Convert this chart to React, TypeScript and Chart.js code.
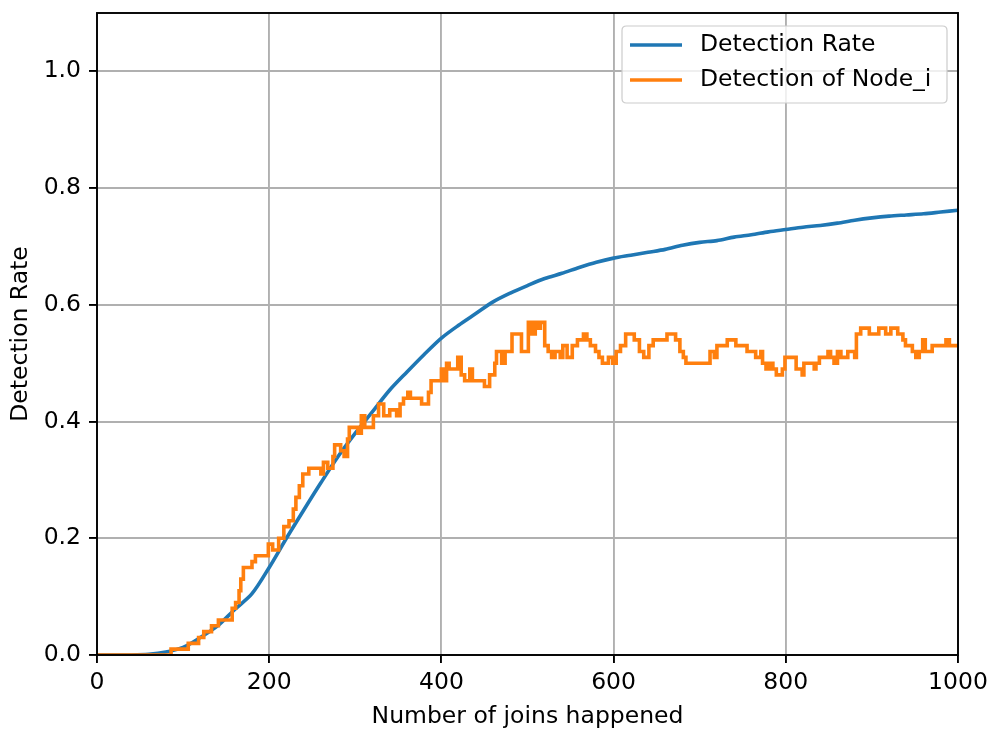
import React, { useEffect, useRef } from 'react';
import { Chart, registerables } from 'chart.js';

Chart.register(...registerables);

const FONT_FAMILY = "'DejaVu Sans', 'Liberation Sans', sans-serif";
const FONT_SIZE = 23.5;

const xAxisTitle = 'Number of joins happened';
const yAxisTitle = 'Detection Rate';
const seriesLabels = ['Detection Rate', 'Detection of Node_i'];
const seriesColors = ['#1f77b4', '#ff7f0e'];

const xMin = 0;
const xMax = 1000;
const xStep = 200;
const yMin = 0;
const yMax = 1.1;
const yStep = 0.2;

// Detection Rate (smooth cumulative curve)
const rateX = [0, 40, 60, 80, 100, 120, 140, 160, 180, 200, 220, 240, 260, 280, 300, 320, 340, 360, 380, 400, 420, 440, 460, 480, 500, 520, 540, 560, 580, 600, 620, 640, 660, 680, 700, 720, 740, 760, 780, 800, 820, 840, 860, 880, 900, 920, 940, 960, 980, 1000];
const rateY = [0, 0, 0.001, 0.005, 0.013, 0.03, 0.05, 0.078, 0.105, 0.15, 0.2, 0.248, 0.295, 0.34, 0.38, 0.417, 0.454, 0.485, 0.515, 0.543, 0.565, 0.585, 0.605, 0.62, 0.633, 0.645, 0.654, 0.664, 0.673, 0.68, 0.685, 0.69, 0.695, 0.702, 0.707, 0.71, 0.716, 0.72, 0.725, 0.729, 0.733, 0.736, 0.74, 0.745, 0.749, 0.752, 0.754, 0.756, 0.759, 0.762];

// Detection of Node_i (step values, each value holds from its x onwards)
const nodeX = [0, 86, 106, 118, 124, 133, 141, 157, 161, 165, 167, 170, 180, 184, 199, 204, 211, 217, 223, 228, 231, 235, 239, 246, 260, 263, 268, 274, 276, 283, 287, 291, 293, 303, 307, 311, 321, 327, 333, 340, 348, 352, 356, 361, 364, 377, 385, 388, 400, 403, 406, 409, 419, 423, 427, 433, 436, 450, 456, 462, 464, 470, 474, 482, 493, 501, 505, 509, 512, 515, 520, 524, 528, 532, 538, 541, 546, 552, 558, 565, 569, 573, 579, 583, 587, 594, 599, 603, 608, 614, 624, 630, 635, 641, 646, 662, 672, 677, 681, 684, 712, 717, 720, 732, 742, 755, 765, 771, 773, 777, 781, 785, 789, 796, 799, 812, 819, 821, 833, 835, 839, 849, 852, 856, 860, 864, 872, 880, 882, 887, 897, 908, 916, 922, 930, 936, 939, 947, 951, 955, 959, 962, 970, 986, 990, 1000];
const nodeY = [0, 0.01, 0.02, 0.03, 0.04, 0.05, 0.06, 0.08, 0.09, 0.11, 0.13, 0.15, 0.16, 0.17, 0.19, 0.18, 0.2, 0.22, 0.23, 0.25, 0.27, 0.29, 0.31, 0.32, 0.31, 0.33, 0.32, 0.34, 0.36, 0.35, 0.34, 0.37, 0.39, 0.38, 0.41, 0.39, 0.41, 0.43, 0.41, 0.42, 0.41, 0.43, 0.44, 0.45, 0.44, 0.43, 0.45, 0.47, 0.49, 0.47, 0.5, 0.49, 0.51, 0.48, 0.47, 0.49, 0.47, 0.46, 0.48, 0.5, 0.52, 0.5, 0.52, 0.55, 0.52, 0.57, 0.55, 0.57, 0.56, 0.57, 0.53, 0.52, 0.51, 0.52, 0.51, 0.53, 0.51, 0.53, 0.54, 0.55, 0.54, 0.53, 0.52, 0.51, 0.5, 0.51, 0.5, 0.52, 0.53, 0.55, 0.54, 0.52, 0.51, 0.53, 0.54, 0.55, 0.54, 0.52, 0.51, 0.5, 0.52, 0.51, 0.53, 0.54, 0.53, 0.52, 0.51, 0.52, 0.5, 0.49, 0.5, 0.49, 0.48, 0.49, 0.51, 0.49, 0.48, 0.5, 0.49, 0.5, 0.51, 0.52, 0.51, 0.5, 0.52, 0.51, 0.52, 0.51, 0.55, 0.56, 0.55, 0.56, 0.55, 0.56, 0.55, 0.54, 0.53, 0.52, 0.51, 0.52, 0.54, 0.52, 0.53, 0.54, 0.53, 0.53];

const framePlugin = {
  id: 'axesFrame',
  afterDatasetsDraw(chart: any) {
    const { ctx, chartArea: a } = chart;
    ctx.save();
    ctx.strokeStyle = '#000000';
    ctx.lineWidth = 1.9;
    ctx.strokeRect(a.left, a.top, a.right - a.left, a.bottom - a.top);
    ctx.restore();
  },
};

const legendPlugin = {
  id: 'boxLegend',
  afterDraw(chart: any) {
    const { ctx, chartArea: a } = chart;
    const boxRight = a.right - 11;
    const boxTop = a.top + 13;
    const boxW = 325;
    const boxH = 77;
    const boxLeft = boxRight - boxW;
    const r = 4.5;
    ctx.save();
    ctx.beginPath();
    ctx.moveTo(boxLeft + r, boxTop);
    ctx.lineTo(boxRight - r, boxTop);
    ctx.quadraticCurveTo(boxRight, boxTop, boxRight, boxTop + r);
    ctx.lineTo(boxRight, boxTop + boxH - r);
    ctx.quadraticCurveTo(boxRight, boxTop + boxH, boxRight - r, boxTop + boxH);
    ctx.lineTo(boxLeft + r, boxTop + boxH);
    ctx.quadraticCurveTo(boxLeft, boxTop + boxH, boxLeft, boxTop + boxH - r);
    ctx.lineTo(boxLeft, boxTop + r);
    ctx.quadraticCurveTo(boxLeft, boxTop, boxLeft + r, boxTop);
    ctx.closePath();
    ctx.fillStyle = 'rgba(255,255,255,0.8)';
    ctx.fill();
    ctx.strokeStyle = '#cccccc';
    ctx.lineWidth = 1.2;
    ctx.stroke();

    ctx.font = `${FONT_SIZE}px ${FONT_FAMILY}`;
    ctx.textBaseline = 'middle';
    ctx.textAlign = 'left';
    chart.data.datasets.forEach((ds: any, i: number) => {
      const cy = boxTop + 19 + i * 35;
      ctx.strokeStyle = ds.borderColor;
      ctx.lineWidth = 3.5;
      ctx.beginPath();
      ctx.moveTo(boxLeft + 8, cy);
      ctx.lineTo(boxLeft + 60, cy);
      ctx.stroke();
      ctx.fillStyle = '#000000';
      ctx.fillText(ds.label, boxLeft + 78, cy);
    });
    ctx.restore();
  },
};

export default function App() {
  const canvasRef = useRef<HTMLCanvasElement | null>(null);

  useEffect(() => {
    document.body.style.margin = '0';
    const canvas = canvasRef.current;
    if (!canvas) return;
    const rateData = rateX.map((x, i) => ({ x, y: rateY[i] }));
    const nodeData = nodeX.map((x, i) => ({ x, y: nodeY[i] }));
    const tickFont = { family: FONT_FAMILY, size: FONT_SIZE };

    const chart = new Chart(canvas, {
      type: 'line',
      data: {
        datasets: [
          {
            label: seriesLabels[0],
            data: rateData,
            borderColor: seriesColors[0],
            backgroundColor: seriesColors[0],
            borderWidth: 3.6,
            pointRadius: 0,
            tension: 0.3,
            fill: false,
            order: 1,
          },
          {
            label: seriesLabels[1],
            data: nodeData,
            borderColor: seriesColors[1],
            backgroundColor: seriesColors[1],
            borderWidth: 3.6,
            pointRadius: 0,
            stepped: 'before',
            fill: false,
            order: 0,
          },
        ],
      },
      options: {
        animation: false,
        responsive: false,
        maintainAspectRatio: false,
        devicePixelRatio: 1,
        layout: { padding: { left: 0, top: 13, right: 34, bottom: 0 } },
        plugins: {
          legend: { display: false },
          tooltip: { enabled: false },
        },
        scales: {
          x: {
            type: 'linear',
            min: xMin,
            max: xMax,
            afterFit(scale: any) {
              scale.height = 76;
              scale.paddingLeft = 0;
              scale.paddingRight = 0;
            },
            ticks: {
              stepSize: xStep,
              color: '#000000',
              font: tickFont,
              padding: 6,
              maxRotation: 0,
              callback: (v: any) => String(v),
            },
            grid: {
              color: '#b0b0b0',
              lineWidth: 1.9,
              drawTicks: true,
              tickLength: 8,
              tickColor: '#000000',
              tickWidth: 1.9,
            },
            border: { display: false },
            title: {
              display: true,
              text: xAxisTitle,
              color: '#000000',
              font: tickFont,
              padding: { top: 0, bottom: 0 },
            },
          },
          y: {
            type: 'linear',
            min: yMin,
            max: yMax,
            afterFit(scale: any) {
              scale.width = 97;
              scale.paddingTop = 0;
              scale.paddingBottom = 0;
            },
            ticks: {
              stepSize: yStep,
              includeBounds: false,
              color: '#000000',
              font: tickFont,
              padding: 8,
              callback: (v: any) => Number(v).toFixed(1),
            },
            grid: {
              color: '#b0b0b0',
              lineWidth: 1.9,
              drawTicks: true,
              tickLength: 8,
              tickColor: '#000000',
              tickWidth: 1.9,
            },
            border: { display: false },
            title: {
              display: true,
              text: yAxisTitle,
              color: '#000000',
              font: tickFont,
              padding: { top: 7, bottom: 0 },
            },
          },
        },
      },
      plugins: [framePlugin, legendPlugin],
    });
    return () => chart.destroy();
  }, []);

  return (
    <div style={{ position: 'absolute', left: 0, top: 0, width: 992, height: 731, background: '#ffffff' }}>
      <canvas ref={canvasRef} width={992} height={731} style={{ display: 'block', width: 992, height: 731 }} />
    </div>
  );
}
